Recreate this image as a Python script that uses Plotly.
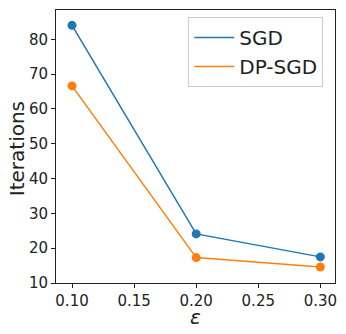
import plotly.graph_objects as go

eps = [0.10, 0.20, 0.30]
sgd = [84.0, 24.1, 17.5]
dp_sgd = [66.6, 17.3, 14.6]

blue = "#1f77b4"
orange = "#ff7f0e"

fig = go.Figure()
for name, ys, c in [("SGD", sgd, blue), ("DP-SGD", dp_sgd, orange)]:
    fig.add_trace(go.Scatter(x=eps, y=ys, mode="lines", name=name,
                             line=dict(color=c, width=1.5)))
    fig.add_trace(go.Scatter(x=eps, y=ys, mode="markers", name=name, showlegend=False,
                             marker=dict(color=c, size=9)))

axis_common = dict(showline=True, linecolor="#222", linewidth=1, mirror=True,
                   ticks="outside", ticklen=4, tickcolor="#222", showgrid=False,
                   zeroline=False, automargin=False, tickfont=dict(size=15, color="#222"))

# page body has an 8px default margin, so the figure is sized/offset to compensate
fig.update_layout(
    width=338, height=326,
    margin=dict(l=48, r=11, t=2, b=51),
    paper_bgcolor="white", plot_bgcolor="white",
    font=dict(family="DejaVu Sans", color="#222"),
    showlegend=True,
    legend=dict(x=0.958, y=0.974, xanchor="right", yanchor="top",
                bordercolor="#cccccc", borderwidth=1, bgcolor="rgba(255,255,255,0.8)",
                font=dict(size=20), itemwidth=40, tracegroupgap=2),
    xaxis=dict(range=[0.0871, 0.3118], tickvals=[0.10, 0.15, 0.20, 0.25, 0.30],
               ticktext=["0.10", "0.15", "0.20", "0.25", "0.30"], **axis_common),
    yaxis=dict(range=[10, 88.4], tickvals=[10, 20, 30, 40, 50, 60, 70, 80], **axis_common),
    annotations=[
        dict(text="<i>ε</i>", xref="paper", yref="paper", x=0.5, y=0, xanchor="center",
             yanchor="middle", yshift=-34, showarrow=False, font=dict(size=20, color="#222")),
        dict(text="Iterations", xref="paper", yref="paper", x=0, y=0.49, xanchor="center",
             yanchor="middle", xshift=-39, textangle=-90, showarrow=False,
             font=dict(size=20, color="#222")),
    ],
)

fig.write_html("out.html")
